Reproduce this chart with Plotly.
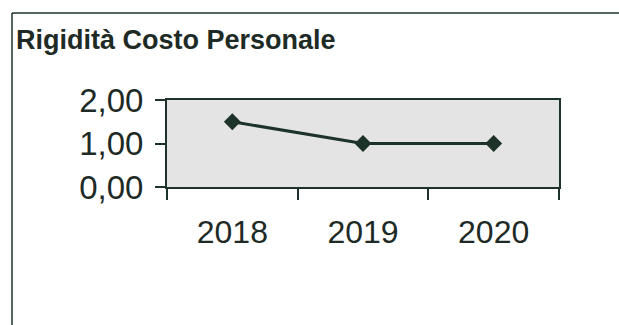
import plotly.graph_objects as go

# Series data
years = ["2018", "2019", "2020"]
rigidita = [1.5, 1.0, 1.0]
y_ticks = [0, 1, 2]

ink = "#1d3329"
text_col = "#1e2a25"
W, H = 619, 325
# plot area in pixels
left, right, top, bottom = 167, 559, 100, 187

fig = go.Figure(
    go.Scatter(
        x=years,
        y=rigidita,
        mode="lines+markers",
        line=dict(color=ink, width=3),
        marker=dict(symbol="diamond", size=13, color=ink),
        hoverinfo="x+y",
    )
)

pw = right - left
ph = bottom - top

def px_x(p):
    return (p - left) / pw

def px_y(p):
    return (bottom - p) / ph

# outer chart frame (left and top edges visible, running off the page)
fig.add_shape(type="line", xref="paper", yref="paper",
              x0=px_x(12), x1=px_x(12), y0=px_y(13), y1=px_y(H + 5),
              line=dict(color=ink, width=1.5))
fig.add_shape(type="line", xref="paper", yref="paper",
              x0=px_x(12), x1=px_x(W + 5), y0=px_y(13), y1=px_y(13),
              line=dict(color=ink, width=1.5))

fig.update_layout(
    width=W,
    height=H,
    margin=dict(l=left, r=W - right, t=top, b=H - bottom, pad=0),
    paper_bgcolor="white",
    plot_bgcolor="#e4e4e4",
    separators=",.",
    showlegend=False,
    font=dict(family="Liberation Sans, Arial, sans-serif", color=text_col),
    title=dict(
        text="<b>Rigidità Costo Personale</b>",
        font=dict(size=27, color=text_col),
        xref="container", yref="container",
        x=16 / W, xanchor="left",
        y=1 - 30 / H, yanchor="top",
    ),
    xaxis=dict(
        type="category",
        range=[-0.5, 2.5],
        tickson="boundaries",
        ticks="outside",
        ticklen=11,
        tickwidth=2,
        tickcolor=ink,
        showline=True,
        linecolor=ink,
        linewidth=2,
        mirror=True,
        showgrid=False,
        tickfont=dict(size=32, color=text_col),
        ticklabelstandoff=16,
        fixedrange=True,
    ),
    yaxis=dict(
        range=[0, 2],
        tickvals=y_ticks,
        tickformat=".2f",
        ticks="outside",
        ticklen=10,
        tickwidth=2,
        tickcolor=ink,
        showline=True,
        linecolor=ink,
        linewidth=2,
        mirror=True,
        showgrid=False,
        zeroline=False,
        tickfont=dict(size=33, color=text_col),
        ticklabelstandoff=5,
        fixedrange=True,
    ),
)

fig.write_html("out.html")
